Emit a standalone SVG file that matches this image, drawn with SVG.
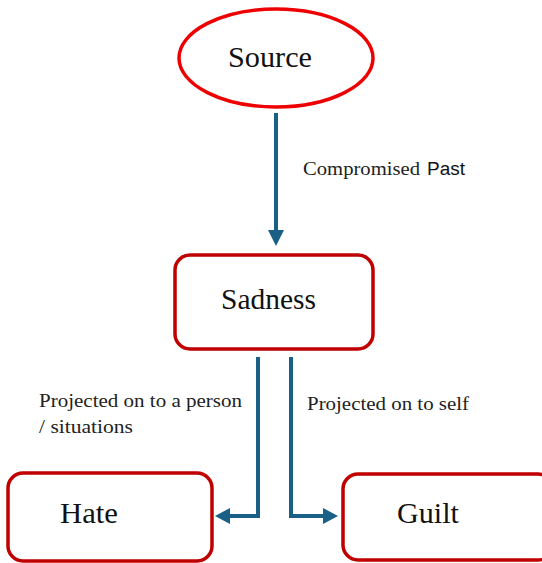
<svg xmlns="http://www.w3.org/2000/svg" width="542" height="563" viewBox="0 0 542 563">
<style>
.box{fill:#fff;stroke:#c00000;stroke-width:3.5}
.lbl{font-family:'Liberation Serif','DejaVu Serif','Times New Roman',serif;font-size:30px;fill:#111}
.cap{font-family:'Liberation Serif','DejaVu Serif','Times New Roman',serif;font-size:19px;fill:#222}
.sans{font-family:'Liberation Sans',Arial,sans-serif;font-size:18px;fill:#111}
.conn{fill:none;stroke:#1a5f85;stroke-width:4}
.head{fill:#1a5f85}
</style>
<rect width="542" height="563" fill="#fff"/>
<g id="connectors">
<path class="conn" d="M276,113 V231"/>
<path class="head" d="M268,230 L284,230 L276,246 Z"/>
<path class="conn" d="M258,357 V516 H230"/>
<path class="head" d="M230,508 L230,524 L215,516 Z"/>
<path class="conn" d="M291,357 V516 H323"/>
<path class="head" d="M323,508 L323,524 L338,516 Z"/>
</g>
<g id="source">
<ellipse cx="276" cy="58" rx="97" ry="49" fill="#fff" stroke="#ee0000" stroke-width="3.5"/>
<text class="lbl" x="228" y="67" textLength="84" lengthAdjust="spacingAndGlyphs">Source</text>
</g>
<g id="sadness">
<rect class="box" x="175" y="255" width="198" height="94" rx="15"/>
<text class="lbl" x="221" y="309" textLength="95" lengthAdjust="spacingAndGlyphs">Sadness</text>
</g>
<g id="hate">
<rect class="box" x="8" y="473" width="204" height="88" rx="15"/>
<text class="lbl" x="60" y="523" textLength="58" lengthAdjust="spacingAndGlyphs">Hate</text>
</g>
<g id="guilt">
<rect class="box" x="343" y="474" width="210" height="86" rx="15"/>
<text class="lbl" x="397" y="523" textLength="62" lengthAdjust="spacingAndGlyphs">Guilt</text>
</g>
<g id="labels">
<text class="cap" y="175"><tspan x="303" textLength="117" lengthAdjust="spacingAndGlyphs">Compromised</tspan> <tspan class="sans" x="427" textLength="38" lengthAdjust="spacingAndGlyphs">Past</tspan></text>
<text class="cap" x="39" y="407" textLength="203" lengthAdjust="spacingAndGlyphs">Projected on to a person</text>
<text class="cap" x="39" y="433" textLength="94" lengthAdjust="spacingAndGlyphs">/ situations</text>
<text class="cap" x="307" y="410" textLength="162" lengthAdjust="spacingAndGlyphs">Projected on to self</text>
</g>
</svg>
